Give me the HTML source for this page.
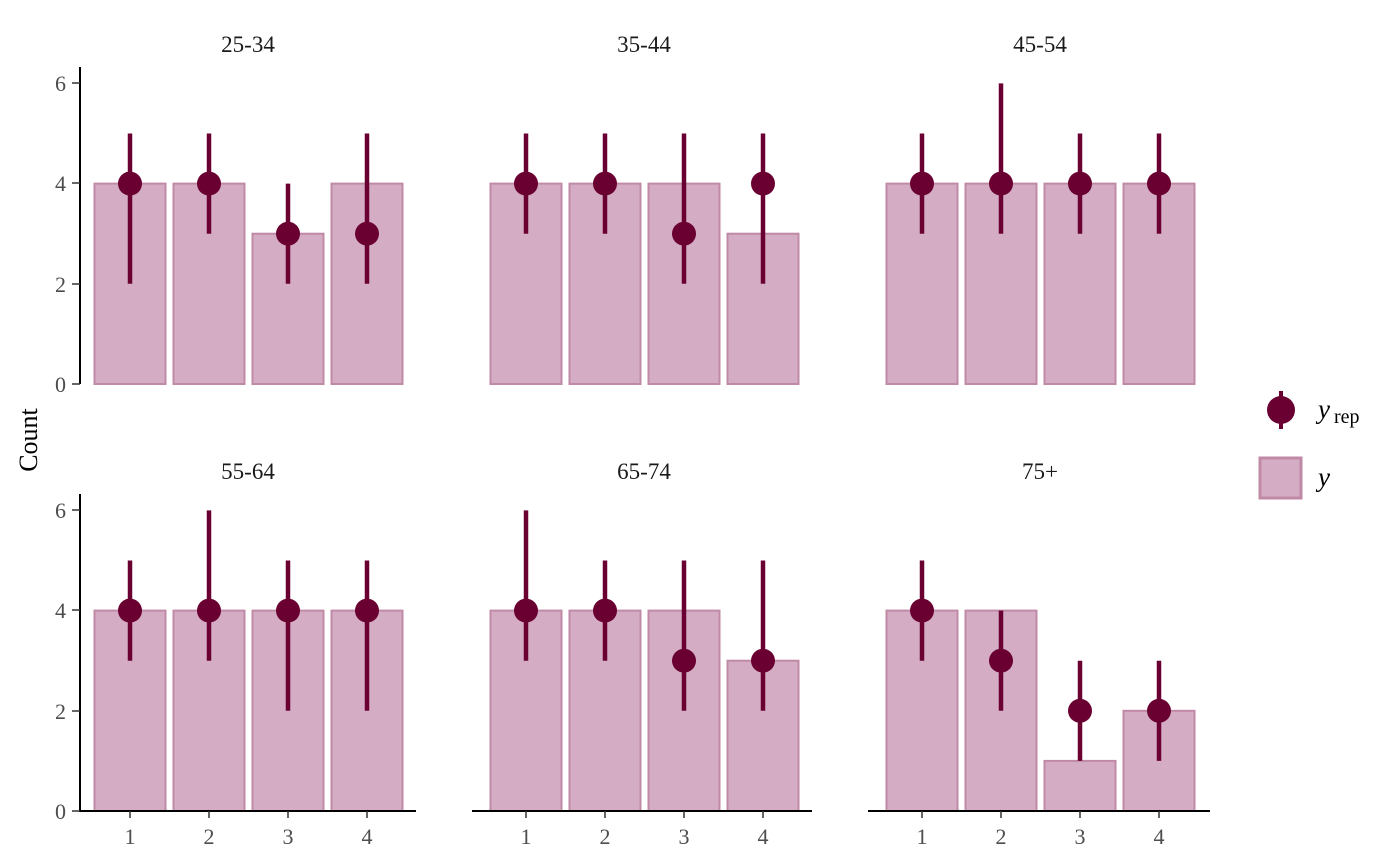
<!DOCTYPE html><html><head><style>body{margin:0;background:#fff}svg{display:block}text{font-family:"Liberation Serif",serif}</style></head><body>
<svg width="1400" height="866" viewBox="0 0 1400 866" xmlns="http://www.w3.org/2000/svg">
<g fill="#d4adc4" stroke="#c08aa6" stroke-width="2">
<rect x="94.5" y="183.6" width="71" height="200.4"/><rect x="173.5" y="183.6" width="71" height="200.4"/><rect x="252.5" y="233.7" width="71" height="150.3"/><rect x="331.5" y="183.6" width="71" height="200.4"/>
<rect x="490.5" y="183.6" width="71" height="200.4"/><rect x="569.5" y="183.6" width="71" height="200.4"/><rect x="648.5" y="183.6" width="71" height="200.4"/><rect x="727.5" y="233.7" width="71" height="150.3"/>
<rect x="886.5" y="183.6" width="71" height="200.4"/><rect x="965.5" y="183.6" width="71" height="200.4"/><rect x="1044.5" y="183.6" width="71" height="200.4"/><rect x="1123.5" y="183.6" width="71" height="200.4"/>
<rect x="94.5" y="610.6" width="71" height="200.4"/><rect x="173.5" y="610.6" width="71" height="200.4"/><rect x="252.5" y="610.6" width="71" height="200.4"/><rect x="331.5" y="610.6" width="71" height="200.4"/>
<rect x="490.5" y="610.6" width="71" height="200.4"/><rect x="569.5" y="610.6" width="71" height="200.4"/><rect x="648.5" y="610.6" width="71" height="200.4"/><rect x="727.5" y="660.7" width="71" height="150.3"/>
<rect x="886.5" y="610.6" width="71" height="200.4"/><rect x="965.5" y="610.6" width="71" height="200.4"/><rect x="1044.5" y="760.9" width="71" height="50.1"/><rect x="1123.5" y="710.8" width="71" height="100.2"/>
</g>
<g stroke="#6a0032" stroke-width="4.5">
<line x1="130" x2="130" y1="133.5" y2="283.8"/><line x1="209" x2="209" y1="133.5" y2="233.7"/><line x1="288" x2="288" y1="183.6" y2="283.8"/><line x1="367" x2="367" y1="133.5" y2="283.8"/>
<line x1="526" x2="526" y1="133.5" y2="233.7"/><line x1="605" x2="605" y1="133.5" y2="233.7"/><line x1="684" x2="684" y1="133.5" y2="283.8"/><line x1="763" x2="763" y1="133.5" y2="283.8"/>
<line x1="922" x2="922" y1="133.5" y2="233.7"/><line x1="1001" x2="1001" y1="83.4" y2="233.7"/><line x1="1080" x2="1080" y1="133.5" y2="233.7"/><line x1="1159" x2="1159" y1="133.5" y2="233.7"/>
<line x1="130" x2="130" y1="560.5" y2="660.7"/><line x1="209" x2="209" y1="510.4" y2="660.7"/><line x1="288" x2="288" y1="560.5" y2="710.8"/><line x1="367" x2="367" y1="560.5" y2="710.8"/>
<line x1="526" x2="526" y1="510.4" y2="660.7"/><line x1="605" x2="605" y1="560.5" y2="660.7"/><line x1="684" x2="684" y1="560.5" y2="710.8"/><line x1="763" x2="763" y1="560.5" y2="710.8"/>
<line x1="922" x2="922" y1="560.5" y2="660.7"/><line x1="1001" x2="1001" y1="610.6" y2="710.8"/><line x1="1080" x2="1080" y1="660.7" y2="760.9"/><line x1="1159" x2="1159" y1="660.7" y2="760.9"/>
</g>
<g fill="#6a0032">
<circle cx="130" cy="183.6" r="12"/><circle cx="209" cy="183.6" r="12"/><circle cx="288" cy="233.7" r="12"/><circle cx="367" cy="233.7" r="12"/>
<circle cx="526" cy="183.6" r="12"/><circle cx="605" cy="183.6" r="12"/><circle cx="684" cy="233.7" r="12"/><circle cx="763" cy="183.6" r="12"/>
<circle cx="922" cy="183.6" r="12"/><circle cx="1001" cy="183.6" r="12"/><circle cx="1080" cy="183.6" r="12"/><circle cx="1159" cy="183.6" r="12"/>
<circle cx="130" cy="610.6" r="12"/><circle cx="209" cy="610.6" r="12"/><circle cx="288" cy="610.6" r="12"/><circle cx="367" cy="610.6" r="12"/>
<circle cx="526" cy="610.6" r="12"/><circle cx="605" cy="610.6" r="12"/><circle cx="684" cy="660.7" r="12"/><circle cx="763" cy="660.7" r="12"/>
<circle cx="922" cy="610.6" r="12"/><circle cx="1001" cy="660.7" r="12"/><circle cx="1080" cy="710.8" r="12"/><circle cx="1159" cy="710.8" r="12"/>
</g>
<g stroke="#000" stroke-width="2" fill="none">
<line x1="80" y1="67" x2="80" y2="384"/>
<line x1="80" y1="494" x2="80" y2="812"/>
<line x1="79" y1="811" x2="416" y2="811"/>
<line x1="472" y1="811" x2="812" y2="811"/>
<line x1="868" y1="811" x2="1210" y2="811"/>
</g>
<g stroke="#333" stroke-width="1.5">
<line x1="72" y1="83" x2="80" y2="83"/><line x1="72" y1="183" x2="80" y2="183"/><line x1="72" y1="284" x2="80" y2="284"/><line x1="72" y1="384" x2="80" y2="384"/>
<line x1="72" y1="510" x2="80" y2="510"/><line x1="72" y1="610" x2="80" y2="610"/><line x1="72" y1="711" x2="80" y2="711"/><line x1="72" y1="811" x2="80" y2="811"/>
<line x1="130" y1="811" x2="130" y2="818"/><line x1="209" y1="811" x2="209" y2="818"/><line x1="288" y1="811" x2="288" y2="818"/><line x1="367" y1="811" x2="367" y2="818"/>
<line x1="526" y1="811" x2="526" y2="818"/><line x1="605" y1="811" x2="605" y2="818"/><line x1="684" y1="811" x2="684" y2="818"/><line x1="763" y1="811" x2="763" y2="818"/>
<line x1="922" y1="811" x2="922" y2="818"/><line x1="1001" y1="811" x2="1001" y2="818"/><line x1="1080" y1="811" x2="1080" y2="818"/><line x1="1159" y1="811" x2="1159" y2="818"/>
</g>
<g font-size="22" fill="#4d4d4d" text-anchor="end">
<text x="66" y="91">6</text><text x="66" y="191">4</text><text x="66" y="292">2</text><text x="66" y="392">0</text>
<text x="66" y="518">6</text><text x="66" y="618">4</text><text x="66" y="719">2</text><text x="66" y="819">0</text>
</g>
<g font-size="22" fill="#4d4d4d" text-anchor="middle">
<text x="130" y="844">1</text><text x="209" y="844">2</text><text x="288" y="844">3</text><text x="367" y="844">4</text>
<text x="526" y="844">1</text><text x="605" y="844">2</text><text x="684" y="844">3</text><text x="763" y="844">4</text>
<text x="922" y="844">1</text><text x="1001" y="844">2</text><text x="1080" y="844">3</text><text x="1159" y="844">4</text>
</g>
<g font-size="23" fill="#1a1a1a" text-anchor="middle">
<text x="248" y="52">25-34</text><text x="644" y="52">35-44</text><text x="1040" y="52">45-54</text>
<text x="248" y="479">55-64</text><text x="644" y="479">65-74</text><text x="1040" y="479">75+</text>
</g>
<text x="0" y="0" font-size="26" transform="translate(37,440) rotate(-90)" text-anchor="middle">Count</text>
<line x1="1281" y1="391" x2="1281" y2="429" stroke="#6a0032" stroke-width="4"/>
<circle cx="1281" cy="410" r="14" fill="#6a0032"/>
<text x="1318" y="418" font-size="27" font-style="italic">y</text><text x="1334" y="423" font-size="20">rep</text>
<rect x="1260" y="458" width="41" height="40" fill="#d4adc4" stroke="#c08aa6" stroke-width="3"/>
<text x="1318" y="486" font-size="27" font-style="italic">y</text>
</svg></body></html>
